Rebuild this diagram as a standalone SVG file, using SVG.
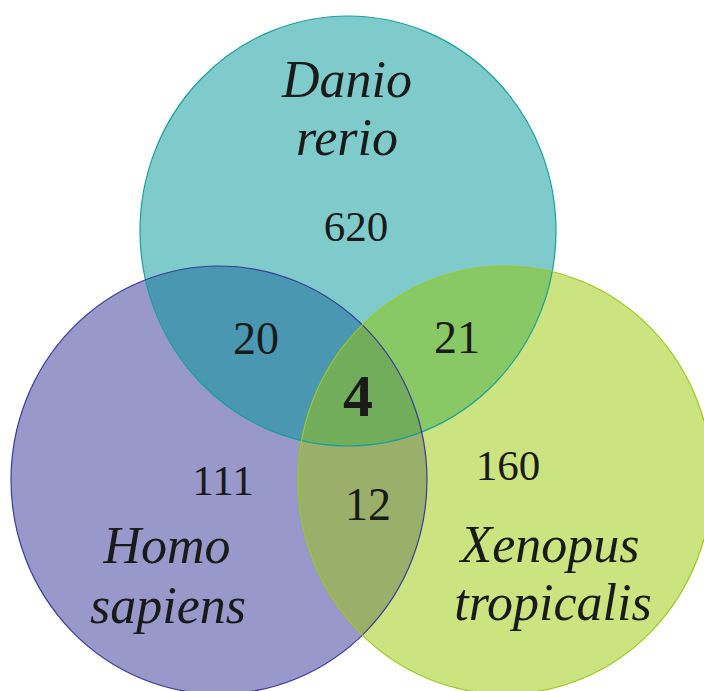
<svg xmlns="http://www.w3.org/2000/svg" width="704" height="691" viewBox="0 0 704 691">
<style>
.lbl{font-family:"Liberation Serif","Times New Roman",serif;font-style:italic;font-size:52px;fill:#1a1a1a;text-anchor:middle}
.num{font-family:"Liberation Serif","Times New Roman",serif;font-size:43px;fill:#1a1a1a;text-anchor:middle}
.ov{font-size:46px}
.bold{font-weight:bold;font-size:60px}
</style>
<defs>
<clipPath id="cT"><ellipse cx="348" cy="231" rx="208" ry="215"/></clipPath>
<clipPath id="cL"><ellipse cx="219" cy="480" rx="208" ry="214"/></clipPath>
<clipPath id="cR"><ellipse cx="505" cy="480" rx="207" ry="214"/></clipPath>
</defs>
<rect width="704" height="691" fill="#ffffff"/>
<g id="fills">
<ellipse cx="348" cy="231" rx="208" ry="215" fill="#7fcbcb"/>
<ellipse cx="219" cy="480" rx="208" ry="214" fill="#9898ca"/>
<ellipse cx="505" cy="480" rx="207" ry="214" fill="#cbe480"/>
<g clip-path="url(#cT)"><ellipse cx="219" cy="480" rx="208" ry="214" fill="#4a97b1"/></g>
<g clip-path="url(#cT)"><ellipse cx="505" cy="480" rx="207" ry="214" fill="#89c965"/></g>
<g clip-path="url(#cL)"><ellipse cx="505" cy="480" rx="207" ry="214" fill="#9aaf69"/></g>
<g clip-path="url(#cT)"><g clip-path="url(#cL)"><ellipse cx="505" cy="480" rx="207" ry="214" fill="#71ad5a"/></g></g>
</g>
<g id="danio-rerio">
<ellipse cx="348" cy="231" rx="208" ry="215" fill="none" stroke="#1a9e9e" stroke-width="1.2"/>
<text class="lbl" x="347" y="97">Danio</text>
<text class="lbl" x="347" y="155">rerio</text>
<text class="num" x="356" y="241">620</text>
</g>
<g id="homo-sapiens">
<ellipse cx="219" cy="480" rx="208" ry="214" fill="none" stroke="#3b3b9c" stroke-width="1.2"/>
<text class="lbl" x="167" y="563">Homo</text>
<text class="lbl" x="168" y="623">sapiens</text>
<text class="num" x="223" y="495">111</text>
</g>
<g id="xenopus-tropicalis">
<ellipse cx="505" cy="480" rx="207" ry="214" fill="none" stroke="#9cc81e" stroke-width="1.2"/>
<text class="lbl" x="550" y="562">Xenopus</text>
<text class="lbl" x="553" y="620">tropicalis</text>
<text class="num" x="508" y="480">160</text>
</g>
<g id="overlaps">
<text class="num ov" x="256" y="354">20</text>
<text class="num ov" x="457" y="353">21</text>
<text class="num ov" x="368" y="520">12</text>
<text class="num bold" x="358" y="416">4</text>
</g>
</svg>
